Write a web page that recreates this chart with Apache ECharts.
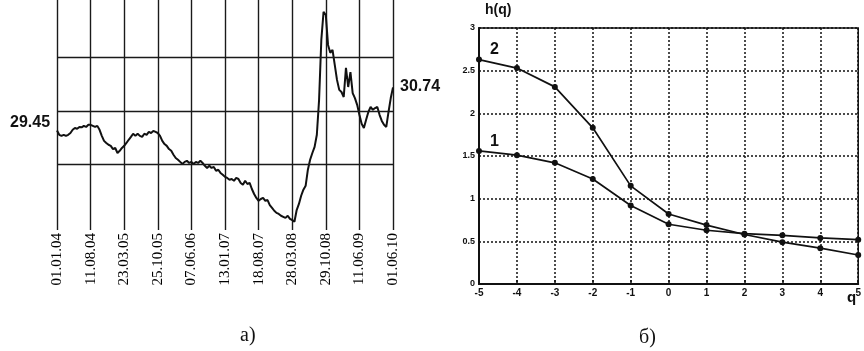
<!DOCTYPE html>
<html><head><meta charset="utf-8">
<script src="https://cdn.jsdelivr.net/npm/echarts/dist/echarts.min.js"></script>
<style>html,body{margin:0;padding:0;background:#fff}#c{width:864px;height:351px}</style>
</head><body><div id="c"></div>
<script>
// ---- chart (а): exchange rate series, 15 points between date ticks ----
const dateTicks = ['01.01.04','11.08.04','23.03.05','25.10.05','07.06.06','13.01.07','18.08.07','28.03.08','29.10.08','11.06.09','01.06.10'];
const rateValues = [
 29.45,29.33,29.30,29.33,29.30,29.33,29.38,29.47,29.52,29.50,29.55,29.54,29.58,29.55,29.61,
 29.61,29.58,29.55,29.58,29.47,29.30,29.16,29.10,29.05,29.02,28.93,28.96,28.82,28.88,28.96,
 29.02,29.10,29.19,29.27,29.36,29.30,29.36,29.30,29.27,29.36,29.33,29.41,29.38,29.44,29.41,
 29.38,29.30,29.16,29.07,29.02,28.93,28.88,28.77,28.68,28.63,28.57,28.51,28.57,28.60,28.54,
 28.57,28.51,28.57,28.54,28.60,28.54,28.46,28.40,28.46,28.40,28.43,28.32,28.35,28.26,28.21,
 28.15,28.12,28.07,28.09,28.04,28.12,28.09,27.98,27.93,28.04,27.95,27.98,27.81,27.67,27.56,
 27.48,27.53,27.56,27.48,27.50,27.36,27.28,27.20,27.14,27.11,27.06,27.03,27.00,27.06,26.97,
 26.94,26.89,27.22,27.39,27.62,27.79,27.90,28.35,28.63,28.82,28.99,29.33,30.31,31.99,32.78,
 32.69,31.85,31.63,31.71,31.29,30.87,30.59,30.53,30.39,31.21,30.67,31.09,30.50,30.36,30.17,
 29.89,29.64,29.52,29.75,29.97,30.11,30.03,30.08,30.11,29.89,29.72,29.61,29.55,29.97,30.36,
 30.66
];
const rateRefLines = [28.5, 30, 31.5];
const rateStartLabel = '29.45';
const rateEndLabel = '30.74';
const pointsPerTick = 15;

// ---- chart (б): h(q) ----
const qValues = [-5,-4,-3,-2,-1,0,1,2,3,4,5];
const h1 = [1.56,1.51,1.42,1.23,0.92,0.70,0.63,0.59,0.57,0.54,0.52];
const h2 = [2.63,2.53,2.31,1.83,1.15,0.82,0.69,0.58,0.49,0.42,0.34];

const categories = rateValues.map((v,i)=> i % pointsPerTick === 0 ? dateTicks[i/pointsPerTick] : '');

const ink = '#111';
const dash = {color:'#111', width:1.5, type:[2,2]};
const chart = echarts.init(document.getElementById('c'), null, {renderer:'canvas'});
chart.setOption({
  backgroundColor:'#ffffff',
  animation:false,
  grid:[
    {left:57, top:0, width:336, height:230, show:false},
    {left:479, top:28, width:384, height:256, show:true, borderColor:ink, borderWidth:1.5, backgroundColor:'transparent'}
  ],
  xAxis:[
    {gridIndex:0, type:'category', data:categories, boundaryGap:false,
     axisLine:{show:false}, axisTick:{show:false},
     axisLabel:{interval:pointsPerTick-1, rotate:90, margin:3, color:'#000', fontFamily:'Liberation Serif', fontSize:15},
     splitLine:{show:true, interval:pointsPerTick-1, lineStyle:{color:'#1a1a1a', width:1.4}}},
    {gridIndex:1, type:'value', min:-5, max:5, interval:1,
     axisLine:{show:true, onZero:false, lineStyle:{color:ink, width:2}},
     axisTick:{show:true, inside:true, length:4, lineStyle:{color:ink, width:1.5}},
     axisLabel:{margin:4, color:ink, fontFamily:'Liberation Sans', fontWeight:'bold', fontSize:10},
     splitLine:{show:true, lineStyle:dash}}
  ],
  yAxis:[
    {gridIndex:0, type:'value', min:26.66, max:33.11, show:false, splitLine:{show:false}},
    {gridIndex:1, type:'value', min:0, max:3, interval:0.5,
     axisLine:{show:true, onZero:false, lineStyle:{color:ink, width:2}},
     axisTick:{show:false},
     axisLabel:{margin:4, color:ink, fontFamily:'Liberation Sans', fontWeight:'bold', fontSize:9},
     splitLine:{show:true, lineStyle:dash}}
  ],
  series:[
    {type:'line', xAxisIndex:0, yAxisIndex:0, data:rateValues, showSymbol:false, symbol:'none',
     lineStyle:{color:ink, width:2}, z:3,
     markLine:{silent:true, symbol:'none', label:{show:false},
       lineStyle:{color:'#1a1a1a', width:1.4, type:'solid'},
       data:rateRefLines.map(v=>({yAxis:v}))}},
    {type:'line', name:'1', xAxisIndex:1, yAxisIndex:1, data:qValues.map((q,i)=>[q,h1[i]]),
     symbol:'circle', symbolSize:6, itemStyle:{color:ink}, lineStyle:{color:ink, width:1.7}},
    {type:'line', name:'2', xAxisIndex:1, yAxisIndex:1, data:qValues.map((q,i)=>[q,h2[i]]),
     symbol:'circle', symbolSize:6, itemStyle:{color:ink}, lineStyle:{color:ink, width:1.7}}
  ],
  graphic:[
    {type:'text', left:10, top:115, style:{text:rateStartLabel, fill:ink, font:'bold 16px "Liberation Sans"'}},
    {type:'text', left:400, top:79, style:{text:rateEndLabel, fill:ink, font:'bold 16px "Liberation Sans"'}},
    {type:'text', left:240, top:326, style:{text:'а)', fill:ink, font:'20px "Liberation Serif"'}},
    {type:'text', left:639, top:328, style:{text:'б)', fill:ink, font:'20px "Liberation Serif"'}},
    {type:'text', left:485, top:3, style:{text:'h(q)', fill:ink, font:'bold 14px "Liberation Sans"'}},
    {type:'text', left:847, top:290, style:{text:'q', fill:ink, font:'bold 15px "Liberation Sans"'}},
    {type:'text', left:490, top:42, style:{text:'2', fill:ink, font:'bold 16px "Liberation Sans"'}},
    {type:'text', left:490, top:134, style:{text:'1', fill:ink, font:'bold 16px "Liberation Sans"'}}
  ]
});
</script>
</body></html>
